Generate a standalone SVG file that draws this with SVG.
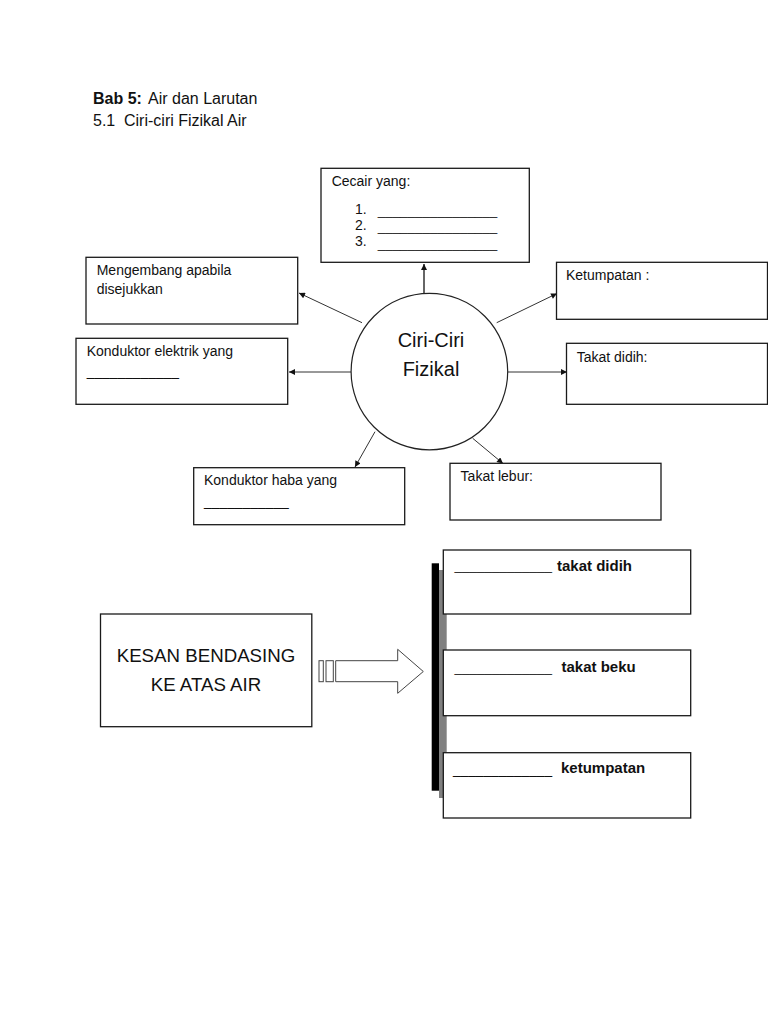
<svg xmlns="http://www.w3.org/2000/svg" width="768" height="1024" viewBox="0 0 768 1024">
<style>
  .box { fill: #ffffff; stroke: #1a1a1a; stroke-width: 1.3; }
  .t { font-family: "Liberation Sans", Arial, sans-serif; fill: #111; }
  .lbl { font-size: 14px; }
  .big { font-size: 20px; }
  .ttl { font-size: 16px; }
  .blab { font-size: 15px; font-weight: bold; }
  .us { font-size: 13.5px; }
  .conn { stroke: #333; stroke-width: 1; fill: none; marker-end: url(#ah); }
</style>
<defs>
  <marker id="ah" viewBox="0 0 10 10" refX="10" refY="5" markerUnits="userSpaceOnUse" markerWidth="7" markerHeight="6" orient="auto">
    <path d="M0,0 L10,5 L0,10 z" fill="#111"/>
  </marker>
</defs>
<rect width="768" height="1024" fill="#ffffff"/>

<g id="title">
  <text class="t ttl" x="93" y="104"><tspan font-weight="bold">Bab 5:</tspan><tspan x="148">Air dan Larutan</tspan></text>
  <text class="t ttl" x="93" y="126">5.1<tspan x="124">Ciri-ciri Fizikal Air</tspan></text>
</g>

<g id="connectors">
  <line class="conn" x1="424" y1="293" x2="424" y2="264" style="stroke-width:1.5"/>
  <line class="conn" x1="362" y1="322.7" x2="299" y2="293"/>
  <line class="conn" x1="496.7" y1="322.7" x2="557" y2="293.5"/>
  <line class="conn" x1="351" y1="372" x2="289" y2="372"/>
  <line class="conn" x1="507.7" y1="372" x2="567" y2="372"/>
  <line class="conn" x1="375" y1="431.7" x2="355" y2="467"/>
  <line class="conn" x1="472.7" y1="438.3" x2="503" y2="463.5"/>
</g>

<g id="center">
  <ellipse cx="429.4" cy="371.6" rx="78.3" ry="78.3" fill="#ffffff" stroke="#222" stroke-width="1.2"/>
  <text class="t big" x="431" y="347" text-anchor="middle">Ciri-Ciri</text>
  <text class="t big" x="431" y="376" text-anchor="middle">Fizikal</text>
</g>

<g id="cecair">
  <rect class="box" x="321" y="168.3" width="208.3" height="94"/>
  <text class="t lbl" x="331.7" y="186">Cecair yang:</text>
  <text class="t lbl" x="355" y="214">1.</text>
  <text class="t lbl" x="355" y="229.5">2.</text>
  <text class="t lbl" x="355" y="245.5">3.</text>
  <text class="t us" x="377.7" y="215" textLength="119.6" lengthAdjust="spacingAndGlyphs">________________</text>
  <text class="t us" x="377.7" y="231" textLength="119.6" lengthAdjust="spacingAndGlyphs">________________</text>
  <text class="t us" x="377.7" y="247.5" textLength="119.6" lengthAdjust="spacingAndGlyphs">________________</text>
</g>

<g id="mengembang">
  <rect class="box" x="86" y="257.3" width="211.7" height="66.7"/>
  <text class="t lbl" x="96.7" y="275">Mengembang apabila</text>
  <text class="t lbl" x="96.7" y="294">disejukkan</text>
</g>

<g id="ketumpatan">
  <rect class="box" x="556.5" y="262.3" width="211" height="57"/>
  <text class="t lbl" x="566" y="279.5">Ketumpatan :</text>
</g>

<g id="konduktor-elektrik">
  <rect class="box" x="76" y="338.3" width="211.7" height="66"/>
  <text class="t lbl" x="86.7" y="356">Konduktor elektrik yang</text>
  <text class="t us" x="86.7" y="375.5" textLength="92.3" lengthAdjust="spacingAndGlyphs">____________</text>
</g>

<g id="takat-didih">
  <rect class="box" x="566.5" y="343.3" width="201" height="61"/>
  <text class="t lbl" x="576.7" y="361.5">Takat didih:</text>
</g>

<g id="konduktor-haba">
  <rect class="box" x="193.7" y="467.7" width="211" height="57"/>
  <text class="t lbl" x="204" y="485">Konduktor haba yang</text>
  <text class="t us" x="204" y="506" textLength="84.8" lengthAdjust="spacingAndGlyphs">___________</text>
</g>

<g id="takat-lebur">
  <rect class="box" x="450" y="463.3" width="211" height="56.7"/>
  <text class="t lbl" x="460.6" y="480.5">Takat lebur:</text>
</g>

<g id="kesan">
  <rect class="box" x="100.5" y="614" width="211.3" height="112.7"/>
  <text class="t" x="206" y="662" text-anchor="middle" font-size="18.7">KESAN BENDASING</text>
  <text class="t" x="206" y="691" text-anchor="middle" font-size="18.7">KE ATAS AIR</text>
</g>

<g id="block-arrow">
  <rect x="319" y="660.7" width="4.3" height="21" fill="#ffffff" stroke="#444" stroke-width="1"/>
  <rect x="326" y="660.7" width="7.3" height="21" fill="#ffffff" stroke="#444" stroke-width="1"/>
  <polygon points="335.7,660.7 397.7,660.7 397.7,649.3 423.3,671.5 397.7,693.3 397.7,681.7 335.7,681.7" fill="#ffffff" stroke="#444" stroke-width="1"/>
</g>

<g id="bracket">
  <rect x="439" y="570" width="7.7" height="228" fill="#808080"/>
  <rect x="431.7" y="563.3" width="7.3" height="227.4" fill="#000000"/>
</g>

<g id="effect-didih">
  <rect class="box" x="443.3" y="550" width="247.4" height="64"/>
  <text class="t us" x="454.5" y="570" textLength="97.5" lengthAdjust="spacingAndGlyphs">_____________</text>
  <text class="t blab" x="557" y="570.5">takat didih</text>
</g>

<g id="effect-beku">
  <rect class="box" x="443.3" y="650" width="247.4" height="65.7"/>
  <text class="t us" x="454.5" y="672" textLength="97.5" lengthAdjust="spacingAndGlyphs">_____________</text>
  <text class="t blab" x="561.5" y="671.5">takat beku</text>
</g>

<g id="effect-ketumpatan">
  <rect class="box" x="443.3" y="752.7" width="247.4" height="65.3"/>
  <text class="t us" x="453" y="774" textLength="99" lengthAdjust="spacingAndGlyphs">_____________</text>
  <text class="t blab" x="561" y="773">ketumpatan</text>
</g>
</svg>
